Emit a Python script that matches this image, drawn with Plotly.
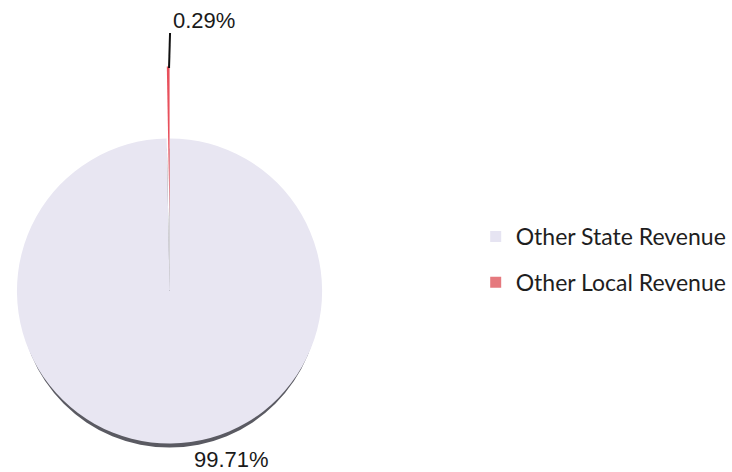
import plotly.graph_objects as go

# ---- data ----
labels = ["Other State Revenue", "Other Local Revenue"]
values = [99.71, 0.29]
slice_colors = ["#E8E6F2", "#E8505C"]
legend_colors = ["#E6E4F2", "#E5797E"]

W, H = 732, 472


def px_domain(cx, cy, r):
    """domain (paper fractions) for a pie centred at pixel (cx, cy) with radius r"""
    return dict(x=[(cx - r) / W, (cx + r) / W], y=[(H - (cy + r)) / H, (H - (cy - r)) / H])


fig = go.Figure()

# shadow under the pie
fig.add_trace(go.Pie(
    values=[sum(values)], labels=["shadow"], marker=dict(colors=["#5A5A62"]),
    textinfo="none", hoverinfo="skip", showlegend=False, sort=False,
    domain=px_domain(170, 298, 150),
))

# main pie (small slice left as a white gap, as the exploded slice sits above)
fig.add_trace(go.Pie(
    values=values, labels=labels,
    marker=dict(colors=[slice_colors[0], "#FFFFFF"]),
    textinfo="none", hoverinfo="label+percent", showlegend=False, sort=False,
    direction="clockwise", rotation=0,
    domain=px_domain(170, 291, 153),
))

# exploded small slice
fig.add_trace(go.Pie(
    values=values, labels=labels,
    marker=dict(colors=["rgba(0,0,0,0)", slice_colors[1]]),
    textinfo="none", hoverinfo="skip", showlegend=False, sort=False,
    direction="clockwise", rotation=0,
    domain=px_domain(170, 216, 150),
))

# legend entries
for lab, col in zip(labels, legend_colors):
    fig.add_trace(go.Scatter(
        x=[None], y=[None], mode="markers", name=lab, legendgroup=lab,
        marker=dict(symbol="square", size=11, color=col),
    ))

total = sum(values)
pcts = [f"{v / total * 100:.2f}%" for v in values]

fig.add_annotation(text=pcts[1], x=205 / W, y=1 - 20 / H, xref="paper", yref="paper",
                   showarrow=False, xanchor="center", yanchor="middle",
                   font=dict(family="Liberation Sans, Arial", size=22, color="#1a1a1a"))
fig.add_annotation(text=pcts[0], x=232 / W, y=1 - 459 / H, xref="paper", yref="paper",
                   showarrow=False, xanchor="center", yanchor="middle",
                   font=dict(family="Liberation Sans, Arial", size=22, color="#1a1a1a"))

# leader line for the small label
fig.add_shape(type="line", xref="paper", yref="paper",
              x0=170.5 / W, y0=1 - 33 / H, x1=169.5 / W, y1=1 - 68 / H,
              line=dict(color="#111111", width=2))

fig.update_layout(
    width=W, height=H,
    margin=dict(l=0, r=0, t=0, b=0),
    paper_bgcolor="white", plot_bgcolor="white",
    xaxis=dict(visible=False), yaxis=dict(visible=False),
    showlegend=True,
    legend=dict(
        x=477 / W, y=1 - 215 / H, xanchor="left", yanchor="top",
        font=dict(family="Lato, Open Sans, sans-serif", size=23, color="#1e1e1e"),
        tracegroupgap=13, bgcolor="rgba(0,0,0,0)",
    ),
)

fig.write_html("out.html")
